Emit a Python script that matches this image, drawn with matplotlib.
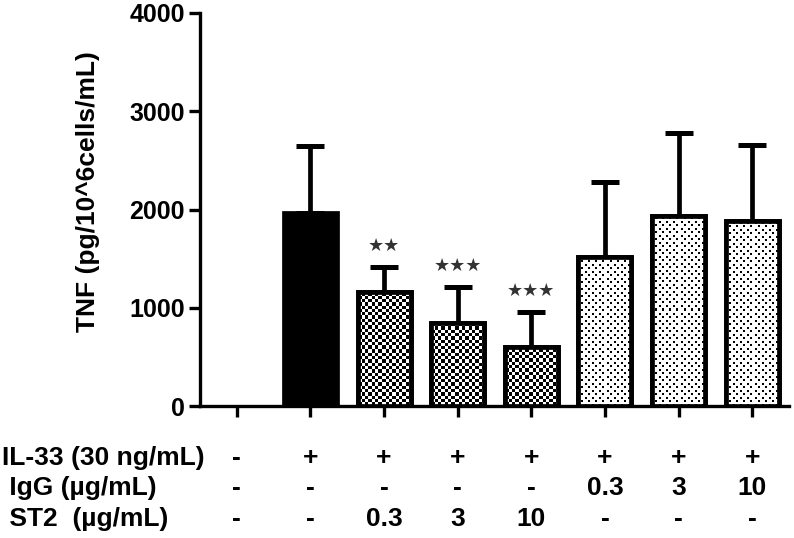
import numpy as np
import matplotlib
matplotlib.use("Agg")
import matplotlib.pyplot as plt
from matplotlib.transforms import blended_transform_factory

# TNF values (pg/10^6 cells/mL), mean and upper SD
means = [0, 1960, 1165, 840, 605, 1515, 1935, 1880]
errors = [0, 690, 250, 370, 350, 765, 840, 775]
styles = ["none", "solid", "checker", "checker", "checker", "dots", "dots", "dots"]
stars = ["", "", "\u2605\u2605", "\u2605\u2605\u2605", "\u2605\u2605\u2605", "", "", ""]

row_labels = ["IL-33 (30 ng/mL)", " IgG (\u00b5g/mL)", " ST2  (\u00b5g/mL)"]
il33_row = ["-", "+", "+", "+", "+", "+", "+", "+"]
igg_row = ["-", "-", "-", "-", "-", "0.3", "3", "10"]
st2_row = ["-", "-", "0.3", "3", "10", "-", "-", "-"]

FONT = ["Liberation Sans Narrow", "Liberation Sans", "DejaVu Sans"]
BAR_W = 0.72


def texture(kind, nx, ny):
    j, i = np.meshgrid(np.arange(nx), np.arange(ny))
    if kind == "checker":
        return ((i // 3.3).astype(int) + (j // 3.3).astype(int)) % 2
    # staggered dot lattice
    a = (i % 7 < 2) & (j % 7 < 2)
    b = ((i + 3) % 7 < 2) & ((j + 4) % 7 < 2)
    return (~(a | b)).astype(int)


fig = plt.figure(figsize=(7.94, 5.38), dpi=100)
ax = fig.add_axes([200 / 794, 1 - 406 / 538, 589 / 794, 393 / 538])
ax.set_xlim(-0.5, 7.5)
ax.set_ylim(0, 4000)

x = np.arange(len(means))
px_x = ax.bbox.width / 8.0
px_y = ax.bbox.height / 4000.0

for xi, m, s in zip(x, means, styles):
    if s == "none":
        continue
    face = "black" if s == "solid" else "white"
    bar = ax.bar(xi, m, width=BAR_W, color=face, edgecolor="black",
                 linewidth=3.4, zorder=3)[0]
    if s in ("checker", "dots"):
        nx = int(round(BAR_W * px_x))
        ny = int(round(m * px_y))
        img = ax.imshow(texture(s, nx, ny), cmap="gray", vmin=0, vmax=1,
                        extent=(xi - BAR_W / 2, xi + BAR_W / 2, 0, m),
                        origin="lower", interpolation="nearest",
                        aspect="auto", zorder=3.5)
        img.set_clip_path(bar)
        ax.bar(xi, m, width=BAR_W, color="none", edgecolor="black",
               linewidth=3.4, zorder=4)

ax.set_xlim(-0.5, 7.5)
ax.set_ylim(0, 4000)

err_x = x[1:]
err_m = np.array(means[1:])
err_e = np.array(errors[1:])
ax.errorbar(err_x, err_m, yerr=[np.zeros_like(err_e), err_e], fmt="none",
            ecolor="black", elinewidth=3.4, capsize=10, capthick=3.6,
            zorder=2, clip_on=False)

for xi, m, e, st in zip(x, means, errors, stars):
    if st:
        ax.text(xi, m + e + 215, st, ha="center", va="center", fontsize=13,
                color="#333333", family="DejaVu Sans")

for side in ("top", "right"):
    ax.spines[side].set_visible(False)
ax.spines["left"].set_linewidth(2.4)
ax.spines["bottom"].set_linewidth(2.4)

ax.set_xticks(x)
ax.set_xticklabels([])
ax.tick_params(axis="x", length=8, width=2.4, direction="out")
ax.set_yticks([0, 1000, 2000, 3000, 4000])
ax.tick_params(axis="y", length=8, width=2.4, direction="out", pad=3)
for lab in ax.get_yticklabels():
    lab.set_family(FONT)
    lab.set_fontsize(18)
    lab.set_fontweight("bold")

ax.set_ylabel("TNF (pg/10^6cells/mL)", fontsize=19, fontweight="bold",
              family=["Liberation Sans", "DejaVu Sans"])
ax.yaxis.set_label_coords(-0.17, 0.545)

# treatment table under the axis
trans = blended_transform_factory(ax.transData, ax.transAxes)
row_y = [-0.132, -0.209, -0.288]
for label, row, ry in zip(row_labels, [il33_row, igg_row, st2_row], row_y):
    fig.text(2 / 794, 1 - (406 - ry * 393) / 538, label, ha="left",
             va="center", fontsize=19, fontweight="bold", family=FONT)
    for xi, val in zip(x, row):
        ax.text(xi, ry, val, transform=trans, ha="center", va="center",
                fontsize=19, fontweight="bold", family=FONT, clip_on=False)

fig.savefig("out.png", dpi=100)
